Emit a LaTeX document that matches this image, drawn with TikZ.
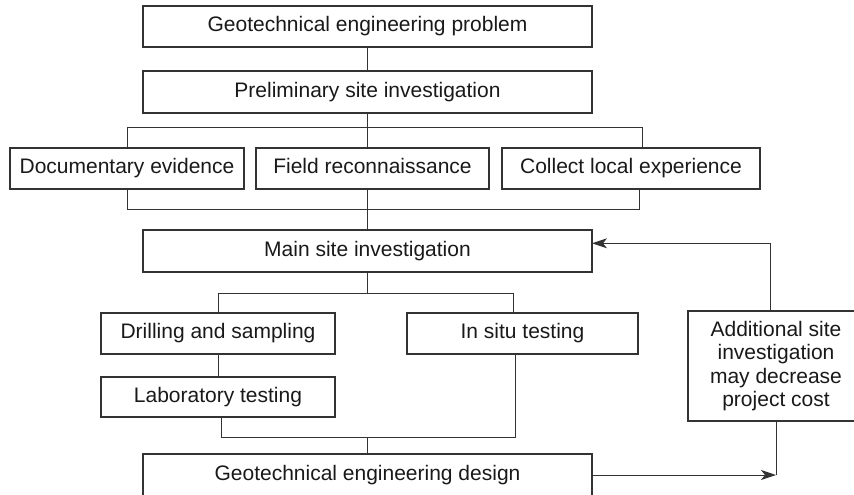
\documentclass[tikz,border=0pt]{standalone}
\usepackage{fontspec}
\setmainfont{Liberation Sans}
\usepackage{tikz}
\usetikzlibrary{arrows.meta,positioning}
\tikzset{
    %Define standard arrow tip
    >={Stealth[length=15pt,width=10pt,inset=4pt]},
    %Define style for boxes
    box/.style={
           rectangle,
           draw=black!80, line width=1.1pt,
           inner sep=0pt, outer sep=0pt,
           minimum height=41pt,
           font=\fontsize{21}{23.5}\selectfont,
           text=black!90,
           align=center},
    %one-line boxes
    punkt/.style={
           box,
           text height=15pt,
           text depth=4.5pt},
    % Define connector style
    pil/.style={
           draw=black!80,
           line width=1pt}
}
\begin{document}
\begin{tikzpicture}[x=1pt,y=-1pt]
\useasboundingbox (0,0) rectangle (854,495);
% boxes
\node[punkt, minimum width=449pt] (problem) at (367.5,26.5) {Geotechnical engineering problem};
\node[punkt, minimum width=449pt, minimum height=42pt, below=24pt of problem] (prelim) {Preliminary site investigation};
\node[punkt, minimum width=234pt] (doc) at (127,168.5) {Documentary evidence};
\node[punkt, minimum width=233pt, right=12pt of doc] (field) {Field reconnaissance};
\node[punkt, minimum width=258pt, right=13pt of field] (collect) {Collect local experience};
\node[punkt, minimum width=449pt, minimum height=42pt, below=117pt of prelim] (main) {Main site investigation};
\node[punkt, minimum width=234pt] (drill) at (218,333.5) {Drilling and sampling};
\node[punkt, minimum width=231pt, right=72pt of drill] (insitu) {In situ testing};
\node[punkt, minimum width=234pt, minimum height=40pt, below=23pt of drill] (lab) {Laboratory testing};
\node[punkt, minimum width=449pt, minimum height=42pt, below=182pt of main] (design) {Geotechnical engineering design};
\node[box, minimum width=176pt, minimum height=110pt] (add) at (776,366) {Additional site\\investigation\\may decrease\\project cost};
% bus points
\coordinate (ur) at (642.3,127.5);
\coordinate (lr) at (639,209);
\coordinate (mr) at (513.3,293.3);
\coordinate (dl) at (221,437.7);
\coordinate (dr) at (515,437.7);
\coordinate (ft) at (770.7,243.3);
\coordinate (fb) at (add.south |- design.center);
% connectors
\path[pil]
	(problem) edge (prelim)
	(prelim.south) edge (prelim.south |- field.north)
	(main.north) edge (main.north |- field.south)
	(main.south) edge (main.south |- mr)
	(drill) edge (lab)
	(design.north) edge (design.north |- dr);
\draw[pil] (doc.north) |- (ur) -- (ur |- collect.north);
\draw[pil] (doc.south) |- (lr) -- (lr |- collect.south);
\draw[pil] (drill.north) |- (mr) -- (mr |- insitu.north);
\draw[pil] (lab.south -| dl) |- (dr) -- (dr |- insitu.south);
% feedback loop
\draw[pil,->] (add.north -| ft) -- (ft) -- (main.east |- ft);
\draw[pil,->] (design.east |- fb) -- (fb);
\draw[pil] (fb) -- (add.south);
\end{tikzpicture}
\end{document}
